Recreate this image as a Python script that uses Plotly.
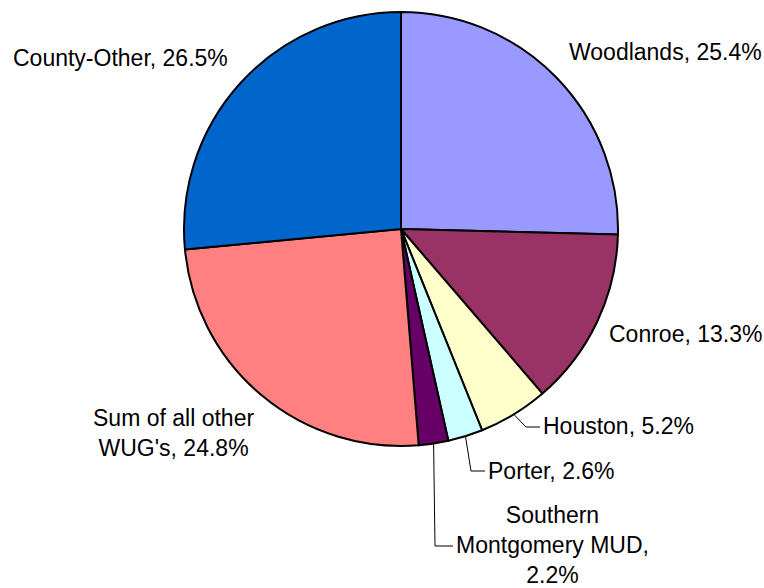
import math
import plotly.graph_objects as go

# ---- data ----
labels = ["Woodlands", "Conroe", "Houston", "Porter",
          "Southern Montgomery MUD", "Sum of all other WUG's", "County-Other"]
values = [25.4, 13.3, 5.2, 2.6, 2.2, 24.8, 26.5]
label_text = ["Woodlands, 25.4%", "Conroe, 13.3%", "Houston, 5.2%", "Porter, 2.6%",
              "Southern<br>Montgomery MUD,<br>2.2%", "Sum of all other<br>WUG's, 24.8%",
              "County-Other, 26.5%"]
colors = ["#9999FF", "#993366", "#FFFFCC", "#CCFFFF", "#660066", "#FF8080", "#0066CC"]

# ---- layout (pixels) ----
W, H = 764, 588
CX, CY, R = 401, 229, 217
FONT = dict(family="Liberation Sans, Arial, sans-serif", size=23, color="black")

def px(x):
    return x / W

def py(y):
    return 1 - y / H

fig = go.Figure(go.Pie(
    labels=labels, values=values, sort=False, direction="clockwise", rotation=0,
    marker=dict(colors=colors, line=dict(color="black", width=2)),
    textinfo="none", hoverinfo="label+percent", showlegend=False,
    domain=dict(x=[px(CX - R), px(CX + R)], y=[py(CY + R), py(CY - R)]),
))

# label positions (pixel anchor, xanchor, align)
label_pos = [
    (568, 52, "left", "left"),
    (608, 334, "left", "left"),
    (542, 426, "left", "left"),
    (487, 471, "left", "left"),
    (552, 545, "center", "center"),
    (173, 433, "center", "center"),
    (12, 58, "left", "left"),
]
annotations = []
for txt, (x, y, xa, al) in zip(label_text, label_pos):
    annotations.append(dict(
        x=px(x), y=py(y), xref="paper", yref="paper", text=txt, showarrow=False,
        xanchor=xa, yanchor="middle", align=al, font=FONT, borderpad=0,
    ))

# leader lines for small slices, starting at the slice's mid-angle on the rim
total = sum(values)
cum = 0
mids = []
for v in values:
    mids.append((cum + v / 2) / total * 2 * math.pi)
    cum += v

leader_pts = {2: [(526, 427), (540, 427)],
              3: [(471, 471), (485, 471)],
              4: [(435, 546), (453, 546)]}
shapes = []
for i, pts in leader_pts.items():
    a = mids[i]
    sx = CX + R * math.sin(a)
    sy = CY - R * math.cos(a)
    path = f"M {px(sx)} {py(sy)}"
    for (x, y) in pts:
        path += f" L {px(x)} {py(y)}"
    shapes.append(dict(type="path", path=path, xref="paper", yref="paper",
                       line=dict(color="black", width=1)))

fig.update_layout(
    width=W, height=H, margin=dict(l=0, r=0, t=0, b=0),
    paper_bgcolor="white", plot_bgcolor="white",
    annotations=annotations, shapes=shapes,
)

fig.write_html("out.html", config={"displayModeBar": False},
               post_script="document.body.style.margin='0px';document.body.style.overflow='hidden';")
